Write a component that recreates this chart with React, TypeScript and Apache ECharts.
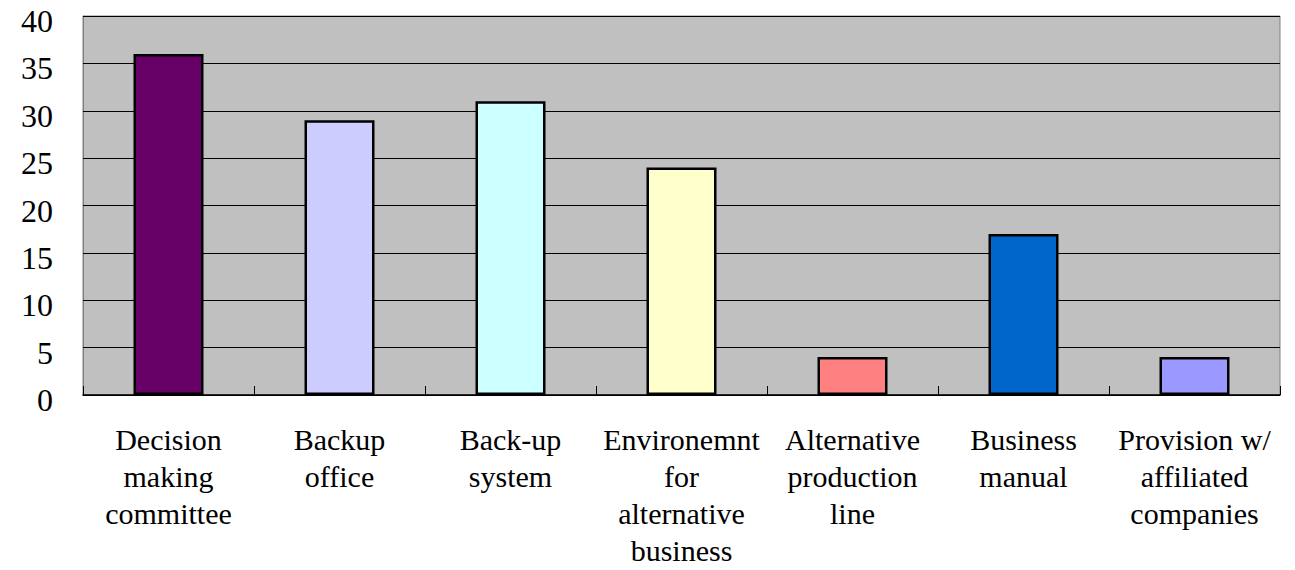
import React, { useEffect, useRef } from "react";
import * as echarts from "echarts";

const categories = [
  "Decision\nmaking\ncommittee",
  "Backup\noffice",
  "Back-up\nsystem",
  "Environemnt\nfor\nalternative\nbusiness",
  "Alternative\nproduction\nline",
  "Business\nmanual",
  "Provision w/\naffiliated\ncompanies",
];
const values = [36, 29, 31, 24, 4, 17, 4];
const barColors = ["#660066", "#CCCCFF", "#CCFFFF", "#FFFFCC", "#FF8080", "#0066CC", "#9999FF"];
const yTicks = { min: 0, max: 40, interval: 5 };

const serif = "'Liberation Serif', 'Times New Roman', serif";

export default function App() {
  const ref = useRef<HTMLDivElement>(null);
  useEffect(() => {
    if (!ref.current) return;
    const chart = echarts.init(ref.current, null, { renderer: "svg" });
    chart.setOption({
      animation: false,
      grid: {
        left: 83,
        right: 15,
        top: 16,
        bottom: 175,
        outerBoundsMode: "none",
        containLabel: false,
        show: true,
        backgroundColor: "#C0C0C0",
        borderColor: "#808080",
        borderWidth: 1,
      },
      xAxis: {
        type: "category",
        data: categories,
        axisLine: { show: true, lineStyle: { color: "#000", width: 1.5 } },
        axisTick: { show: true, inside: true, length: 9, lineStyle: { color: "#000" } },
        axisLabel: {
          interval: 0,
          margin: 26,
          fontFamily: serif,
          fontSize: 30,
          lineHeight: 37,
          color: "#000",
        },
        splitLine: { show: false },
      },
      yAxis: {
        type: "value",
        min: yTicks.min,
        max: yTicks.max,
        interval: yTicks.interval,
        axisLine: { show: true, lineStyle: { color: "#808080" } },
        axisTick: { show: true, inside: true, length: 10, lineStyle: { color: "#000" } },
        axisLabel: {
          margin: 30,
          fontFamily: serif,
          fontSize: 32,
          color: "#000",
          verticalAlign: "top",
          lineHeight: 10,
        },
        splitLine: { show: true, lineStyle: { color: "#000", width: 1 } },
      },
      series: [
        {
          type: "bar",
          barWidth: 70,
          data: values.map((v, i) => ({
            value: v,
            itemStyle: { color: barColors[i], borderColor: "#000", borderWidth: 2.5 },
          })),
        },
      ],
    });
    return () => chart.dispose();
  }, []);
  return (
    <div
      ref={ref}
      style={{ position: "absolute", left: 0, top: 0, width: 1295, height: 570 }}
    />
  );
}
